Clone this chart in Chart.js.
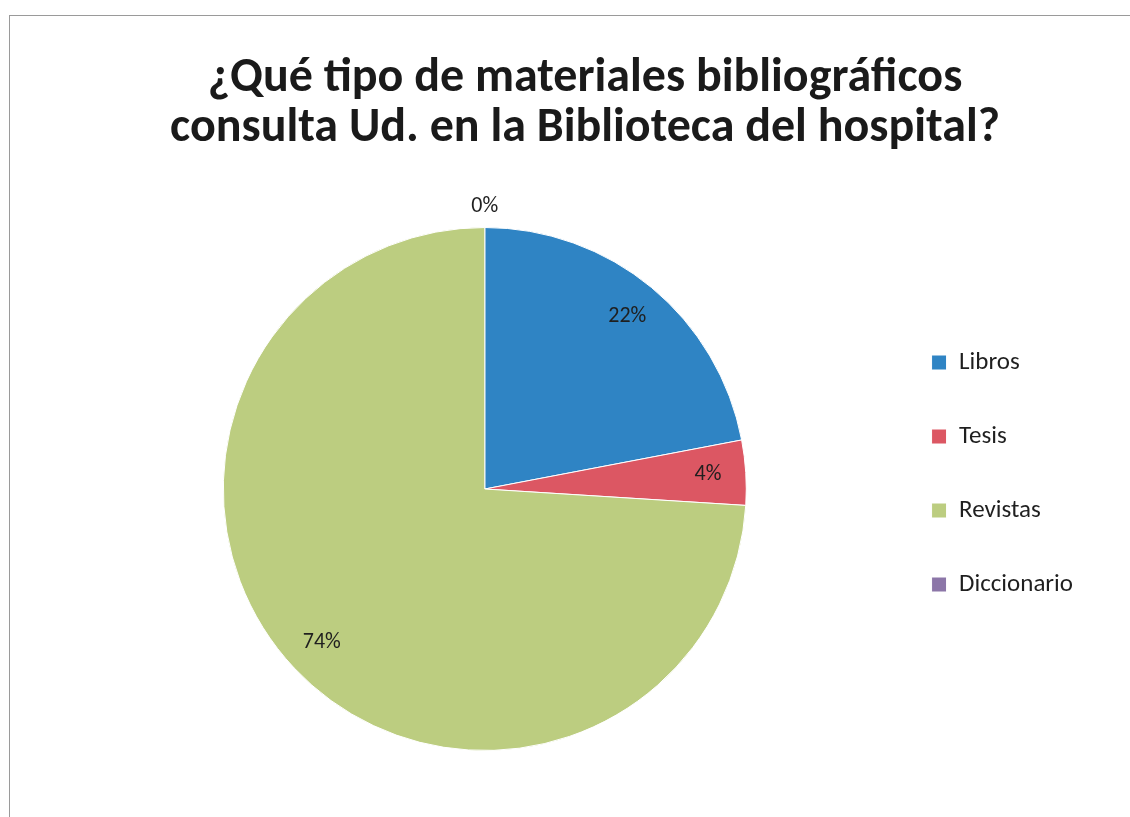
<!DOCTYPE html>
<html>
<head>
<meta charset="utf-8">
<script src="https://cdn.jsdelivr.net/npm/chart.js@4"></script>
<style>
  html, body { margin: 0; padding: 0; background: #fff; }
  #wrap { position: relative; width: 1130px; height: 817px; }
  #frame { position: absolute; left: 9px; top: 15px; right: 0; bottom: 0;
           border-left: 1px solid #9a9a9a; border-top: 1px solid #9a9a9a; pointer-events: none; }
  canvas { position: absolute; left: 0; top: 0; }
</style>
</head>
<body>
<div id="wrap">
  <canvas id="chart-materials" width="1130" height="817"></canvas>
  <div id="frame"></div>
</div>
<script>
// Data
const titleLines = ['¿Qué tipo de materiales bibliográficos', 'consulta Ud. en la Biblioteca del hospital?'];
const categories = ['Libros', 'Tesis', 'Revistas', 'Diccionario'];
const percentages = [22, 4, 74, 0];
const sliceColors = ['#2f84c4', '#dc5763', '#bccd80', '#8c76a8'];

const FONT = 'Carlito, Calibri, Lato, "Open Sans", sans-serif';

// Percent labels drawn on / beside each slice
const sliceLabels = {
  id: 'sliceLabels',
  afterDatasetsDraw(chart) {
    const ctx = chart.ctx;
    const meta = chart.getDatasetMeta(0);
    ctx.save();
    ctx.font = '22px ' + FONT;
    ctx.fillStyle = '#1f1f1f';
    ctx.textAlign = 'center';
    ctx.textBaseline = 'middle';
    meta.data.forEach((arc, i) => {
      const p = arc.getProps(['x', 'y', 'startAngle', 'endAngle', 'outerRadius'], true);
      const mid = (p.startAngle + p.endAngle) / 2;
      const value = percentages[i];
      const r = value === 0 ? p.outerRadius * 1.08 : p.outerRadius * 0.855;
      ctx.fillText(value + '%', p.x + Math.cos(mid) * r, p.y + Math.sin(mid) * r);
    });
    ctx.restore();
  }
};

const ctx = document.getElementById('chart-materials').getContext('2d');

new Chart(ctx, {
  type: 'pie',
  data: {
    labels: categories,
    datasets: [{
      data: percentages,
      backgroundColor: sliceColors,
      borderColor: '#ffffff',
      borderWidth: 1
    }]
  },
  options: {
    responsive: false,
    animation: false,
    layout: {
      padding: { top: 14, left: 87, right: 47, bottom: 66 }
    },
    plugins: {
      title: {
        display: true,
        text: titleLines,
        color: '#1a1a1a',
        font: { family: FONT, size: 48, weight: 'bold', lineHeight: 50 / 48 },
        padding: { top: 40, bottom: 73 }
      },
      legend: {
        position: 'right',
        fullSize: false,
        align: 'start',
        // empty legend title used only as a spacer above the items
        title: { display: true, text: '', font: { size: 10, lineHeight: 1 }, padding: { top: 64, bottom: 0 } },
        labels: {
          color: '#1f1f1f',
          font: { family: FONT, size: 25 },
          boxWidth: 15,
          boxHeight: 15,
          padding: 49
        }
      },
      tooltip: { enabled: false }
    }
  },
  plugins: [sliceLabels]
});
</script>
</body>
</html>
